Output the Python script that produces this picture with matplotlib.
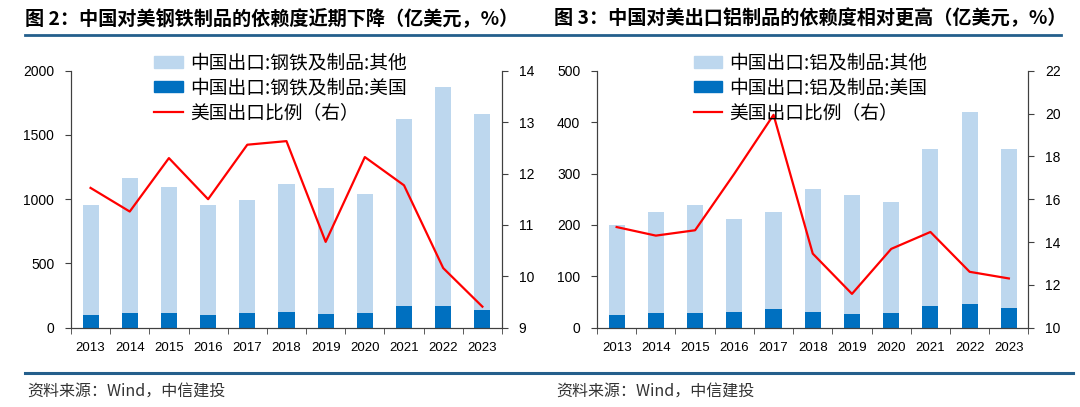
import numpy as np
import matplotlib
matplotlib.use("Agg")
import matplotlib.pyplot as plt
from matplotlib.lines import Line2D

plt.rcParams['font.family'] = ['Liberation Sans', 'Noto Sans CJK SC', 'DejaVu Sans']
CJK = ['Noto Sans CJK SC', 'DejaVu Sans']

#DATA
years = ["2013", "2014", "2015", "2016", "2017", "2018", "2019", "2020", "2021", "2022", "2023"]

# steel (亿美元): total bar height and US part, share in %
steel_total = [957, 1162, 1094, 952, 996, 1118, 1087, 1043, 1625, 1876, 1661]
steel_us = [98, 116, 116, 98, 111, 122, 106, 114, 171, 171, 140]
steel_ratio = [11.72, 11.26, 12.30, 11.50, 12.56, 12.63, 10.67, 12.32, 11.77, 10.16, 9.41]

# aluminium
alu_total = [200, 225, 238, 211, 225, 270, 259, 245, 347, 420, 348]
alu_us = [24.6, 27.8, 29, 30.4, 36.9, 30.4, 26.5, 28.5, 42.7, 46.6, 37.5]
alu_ratio = [14.70, 14.30, 14.55, 17.19, 19.94, 13.46, 11.58, 13.68, 14.47, 12.61, 12.30]

LIGHT = '#BDD7EE'
DARK = '#0070C0'
RED = '#FF0000'
SPINE = '#404040'
LINE_BLUE = '#245F8C'


def draw_panel(ax, total, us, ratio, ylim, yticks, y2lim, y2ticks, labels, leg_x):
    x = np.arange(len(years))
    other = np.array(total) - np.array(us)
    ax.bar(x, us, width=0.41, color=DARK, zorder=2)
    ax.bar(x, other, width=0.41, bottom=us, color=LIGHT, zorder=2)
    ax.set_xlim(-0.5, len(years) - 0.5)
    ax.set_ylim(*ylim)
    ax.set_yticks(yticks)
    ax.set_xticks(x)
    ax.set_xticklabels(years)
    ax.set_xticks(np.arange(-0.5, len(years)), minor=True)
    ax.tick_params(axis='x', which='major', length=0, pad=10, labelsize=9.5)
    ax.tick_params(axis='x', which='minor', length=4, direction='out', color=SPINE)
    ax.tick_params(axis='y', length=4, direction='out', pad=8, labelsize=10, color=SPINE)
    ax.spines['top'].set_visible(False)
    for s in ['left', 'bottom', 'right']:
        ax.spines[s].set_color(SPINE)

    ax2 = ax.twinx()
    ax2.plot(x, ratio, color=RED, linewidth=1.6, zorder=3)
    ax2.set_ylim(*y2lim)
    ax2.set_yticks(y2ticks)
    ax2.tick_params(axis='y', length=4, direction='out', pad=8, labelsize=10, color=SPINE)
    ax2.spines['top'].set_visible(False)
    for s in ['left', 'bottom', 'right']:
        ax2.spines[s].set_color(SPINE)

    handles = [plt.Rectangle((0, 0), 1, 1, color=LIGHT),
               plt.Rectangle((0, 0), 1, 1, color=DARK),
               Line2D([0], [0], color=RED, linewidth=1.6)]
    ax2.legend(handles, labels, loc='upper left', bbox_to_anchor=(leg_x, 1.085),
               frameon=False, prop={'family': CJK, 'size': 13.5},
               handlelength=1.5, handleheight=0.55, handletextpad=0.4,
               labelspacing=0.2, borderpad=0.2, borderaxespad=0)
    return ax2


fig = plt.figure(figsize=(10.8, 4.07), dpi=100)

ax_l = fig.add_axes([0.0657, 0.1948, 0.3991, 0.6315])
draw_panel(ax_l, steel_total, steel_us, steel_ratio,
           (0, 2000), [0, 500, 1000, 1500, 2000],
           (9, 14), [9, 10, 11, 12, 13, 14],
           ["中国出口:钢铁及制品:其他", "中国出口:钢铁及制品:美国", "美国出口比例（右）"], 0.185)

ax_r = fig.add_axes([0.5528, 0.1948, 0.3995, 0.6315])
draw_panel(ax_r, alu_total, alu_us, alu_ratio,
           (0, 500), [0, 100, 200, 300, 400, 500],
           (10, 22), [10, 12, 14, 16, 18, 20, 22],
           ["中国出口:铝及制品:其他", "中国出口:铝及制品:美国", "美国出口比例（右）"], 0.215)

#titles
fig.text(25 / 1080, 1 - 18 / 407, "图 2：中国对美钢铁制品的依赖度近期下降（亿美元，%）",
         family=CJK, fontsize=13.8, fontweight='bold', va='center', ha='left')
fig.text(554 / 1080, 1 - 18 / 407, "图 3：中国对美出口铝制品的依赖度相对更高（亿美元，%）",
         family=CJK, fontsize=13.8, fontweight='bold', va='center', ha='left')

#separator lines
fig.add_artist(Line2D([25 / 1080, 1061 / 1080], [1 - 35 / 407, 1 - 35 / 407],
                      color=LINE_BLUE, linewidth=2))
fig.add_artist(Line2D([25 / 1080, 1073 / 1080], [1 - 373 / 407, 1 - 373 / 407],
                      color=LINE_BLUE, linewidth=2.2))

#source
fig.text(27 / 1080, 1 - 392 / 407, "资料来源：Wind，中信建投", family=CJK,
         fontsize=11.5, color='#333333', va='center', ha='left')
fig.text(556 / 1080, 1 - 392 / 407, "资料来源：Wind，中信建投", family=CJK,
         fontsize=11.5, color='#333333', va='center', ha='left')

fig.savefig("out.png", dpi=100)
